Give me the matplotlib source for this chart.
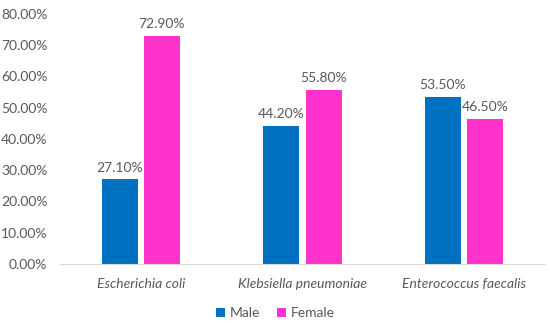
import matplotlib
matplotlib.use("Agg")
import matplotlib.pyplot as plt
import numpy as np
from matplotlib.ticker import FuncFormatter

categories = ["Escherichia coli", "Klebsiella pneumoniae", "Enterococcus faecalis"]
male = [27.10, 44.20, 53.50]
female = [72.90, 55.80, 46.50]
series_names = ["Male", "Female"]

plt.rcParams['font.family'] = ['Lato', 'DejaVu Sans']
gray = '#595959'

fig = plt.figure(figsize=(5.5, 3.23), dpi=100)
ax = fig.add_axes([0.109, 0.183, 0.882, 0.774])

x = np.arange(len(categories))
w = 0.223
off = 0.131
b1 = ax.bar(x - off, male, w, color='#0070C0', label=series_names[0])
b2 = ax.bar(x + off, female, w, color='#FF33CC', label=series_names[1])

for bars, vals in ((b1, male), (b2, female)):
    for r, v in zip(bars, vals):
        ax.text(r.get_x() + r.get_width() / 2, v + 1.8, f"{v:.2f}%", ha='center', va='bottom',
                fontsize=10, color=gray)

ax.set_xlim(-0.5, 2.5)
ax.set_ylim(0, 80)
ax.set_yticks(np.arange(0, 81, 10))
ax.yaxis.set_major_formatter(FuncFormatter(lambda v, p: f"{v:.2f}%"))
ax.set_xticks(x)
ax.set_xticklabels(categories, fontstyle='italic')
ax.tick_params(axis='both', length=0, colors=gray, labelsize=10)
ax.tick_params(axis='x', pad=10)
ax.tick_params(axis='y', pad=9)
for s in ('top', 'right', 'left'):
    ax.spines[s].set_visible(False)
ax.spines['bottom'].set_color('#D9D9D9')

leg = fig.legend(handles=[b1, b2], loc='center', bbox_to_anchor=(0.5, 0.03), ncol=2, frameon=False,
                 fontsize=10, handlelength=0.7, handleheight=0.7, handletextpad=0.3, columnspacing=1.2)
for t in leg.get_texts():
    t.set_color(gray)

fig.savefig("out.png", dpi=100)
